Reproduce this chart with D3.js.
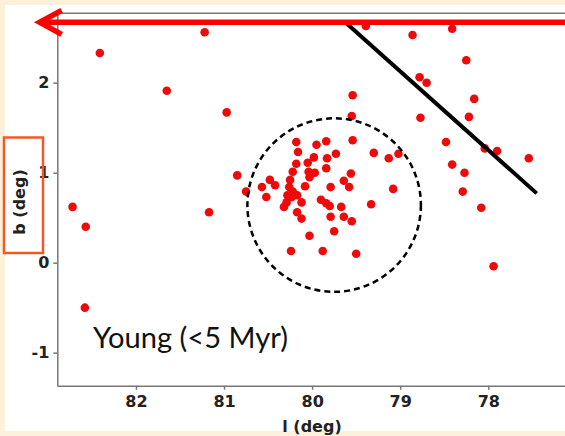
<!DOCTYPE html>
<html>
<head>
  <meta charset="utf-8">
  <title>Young (&lt;5 Myr)</title>
  <style>
  body { margin: 0; background: #fcf2dc; }
  svg { display: block; }
  .tick text { font: bold 16px "DejaVu Sans", sans-serif; fill: #222; }
  .tick line, .domain { stroke: #777; stroke-width: 1.5; }
</style>
</head>
<body>
  <div id="viz"></div>
  <script src="https://d3js.org/d3.v7.min.js"></script>
  <script>
    // star positions, galactic l / b in degrees
    const lVals = [82.41, 81.22, 81.65, 80.97, 79.54, 79.55, 79.39, 78.86, 78.41, 78.25,
      78.78, 78.70, 78.16, 78.77, 78.22, 79.54, 78.48, 80.18, 79.95, 79.84,
      78.04, 77.90, 77.54, 78.41, 78.27, 78.29, 78.08, 77.94, 79.08, 79.30,
      79.13, 79.02, 79.33, 79.50, 79.88, 80.24, 80.03, 79.75, 79.55, 79.64,
      79.79, 79.67, 79.80, 79.90, 79.84, 79.79, 79.64, 79.58, 79.56, 79.73,
      79.83, 79.84, 79.98, 80.05, 79.97, 80.04, 80.03, 80.08, 80.16, 80.18,
      80.22, 80.25, 80.26, 80.22, 80.17, 80.12, 80.29, 80.32, 80.17, 80.12,
      80.85, 80.75, 82.72, 82.57, 81.17, 80.57, 80.52, 80.48, 80.42, 82.58,
      80.23, 80.28];
    const bVals = [2.33, 2.56, 1.91, 1.67, 1.86, 1.63, 2.63, 2.53, 2.60, 2.25,
      2.06, 2.00, 1.82, 1.61, 1.62, 1.36, 1.34, 1.34, 1.31, 1.35,
      1.27, 1.24, 1.16, 1.09, 1.00, 0.79, 0.61, -0.04, 0.82, 1.22,
      1.16, 1.21, 0.65, 0.10, 0.13, 0.13, 0.30, 0.35, 0.46, 0.51,
      0.51, 0.62, 0.63, 0.70, 0.66, 0.84, 0.91, 0.84, 0.99, 1.21,
      1.16, 1.05, 1.17, 1.11, 1.00, 1.01, 0.95, 0.85, 1.23, 1.10,
      1.01, 0.92, 0.84, 0.79, 0.75, 0.67, 0.67, 0.62, 0.56, 0.49,
      0.97, 0.79, 0.62, 0.40, 0.56, 0.84, 0.73, 0.92, 0.86, -0.50,
      0.73, 0.75];

    const xTicks = [82, 81, 80, 79, 78];
    const yTicks = [-1, 0, 1, 2];
    const xDomain = [82.893, 77.095];
    const yDomain = [-1.367, 2.771];

    // annotations in data coords
    const ringCenter = [79.75, 0.64];
    const ringRadius = 0.985;          // deg along l
    const slashLine = [[79.62, 2.67], [77.45, 0.77]];
    const arrowB = 2.671;
    const arrowTipL = 83.116;
    const panelLabel = "Young (<5 Myr)";

    let svgWidth = 565, svgHeight = 436;
    let margin = {top: 13.3, left: 57.3, bottom: 436 - 385.7};
    let svg = d3.select("#viz").append("svg")
      .attr("width", svgWidth)
      .attr("height", svgHeight);

    // slide frame + white panel
    svg.append("rect").attr("width", svgWidth).attr("height", svgHeight).attr("fill", "#fcf2dc");
    svg.append("rect").attr("x", 5).attr("y", 5).attr("width", 560).attr("height", 426).attr("fill", "#fff");

    let x = d3.scaleLinear().domain(xDomain).range([margin.left, 568]);
    let y = d3.scaleLinear().domain(yDomain).range([svgHeight - margin.bottom, margin.top]);
    let fmt = d => String(d);   // plain hyphen, no decimals

    // frame of the axes
    svg.append("line")
      .attr("x1", margin.left).attr("x2", svgWidth)
      .attr("y1", margin.top).attr("y2", margin.top)
      .attr("stroke", "#777").attr("stroke-width", 1.5);

    svg.append("g")
      .attr("transform", `translate(0,${svgHeight - margin.bottom})`)
      .call(d3.axisBottom(x).tickValues(xTicks).tickFormat(fmt).tickSize(4).tickPadding(6).tickSizeOuter(0));

    svg.append("g")
      .attr("transform", `translate(${margin.left},0)`)
      .call(d3.axisLeft(y).tickValues(yTicks).tickFormat(fmt).tickSize(4).tickPadding(4).tickSizeOuter(0));

    // axis labels
    svg.append("text")
      .attr("x", 312).attr("y", 432)
      .attr("text-anchor", "middle")
      .style("font", "bold 16px 'DejaVu Sans', sans-serif").attr("fill", "#222")
      .text("l (deg)");

    svg.append("rect")
      .attr("x", 4).attr("y", 137.5).attr("width", 39).attr("height", 115.5)
      .attr("fill", "none").attr("stroke", "#f05a28").attr("stroke-width", 2.5);

    svg.append("text")
      .attr("transform", "translate(25,202) rotate(-90)")
      .attr("text-anchor", "middle")
      .style("font", "bold 16px 'DejaVu Sans', sans-serif").attr("fill", "#222")
      .text("b (deg)");

    // stars
    let pts = lVals.map((l, i) => [l, bVals[i]]);
    svg.append("g").selectAll("circle")
      .data(pts)
      .join("circle")
      .attr("cx", d => x(d[0]))
      .attr("cy", d => y(d[1]))
      .attr("r", 4.3)
      .attr("fill", "#ee0a0a");

    // dashed ring
    svg.append("circle")
      .attr("cx", x(ringCenter[0]))
      .attr("cy", y(ringCenter[1]))
      .attr("r", x(ringCenter[0] - ringRadius) - x(ringCenter[0]))
      .attr("fill", "none")
      .attr("stroke", "#000")
      .attr("stroke-width", 2.5)
      .attr("stroke-dasharray", "6,4");

    // black slash
    svg.append("line")
      .attr("x1", x(slashLine[0][0])).attr("y1", y(slashLine[0][1]))
      .attr("x2", x(slashLine[1][0])).attr("y2", y(slashLine[1][1]))
      .attr("stroke", "#000").attr("stroke-width", 4);

    // red arrow pointing to larger l
    let ay = y(arrowB), tip = x(arrowTipL);
    svg.append("line")
      .attr("x1", tip + 2).attr("x2", svgWidth)
      .attr("y1", ay).attr("y2", ay)
      .attr("stroke", "#f00").attr("stroke-width", 5.5);
    svg.append("path")
      .attr("d", `M${tip + 24},${ay - 12} L${tip + 2},${ay} L${tip + 24},${ay + 12}`)
      .attr("fill", "none").attr("stroke", "#f00")
      .attr("stroke-width", 5.5).attr("stroke-linejoin", "miter");

    // panel label
    let lab = svg.append("text")
      .attr("x", 93).attr("y", 348)
      .style("font", "28px Lato, 'Open Sans', sans-serif").attr("fill", "#111")
      .text(panelLabel);
    let w = lab.node().getComputedTextLength();
    if (w > 0) lab.style("font-size", (28 * 195 / w) + "px");
  </script>
</body>
</html>
